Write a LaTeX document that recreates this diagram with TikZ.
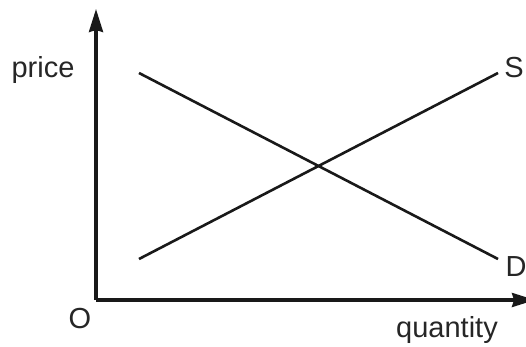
\documentclass[tikz,border=0pt]{standalone}
\usepackage{fontspec}
\setmainfont{Liberation Sans}
\usetikzlibrary{arrows.meta}
\begin{document}
\begin{tikzpicture}[x=1pt,y=-1pt,
  axis/.style={line width=3.2pt,draw=black!90,-{Stealth[length=23pt,width=14pt,inset=2pt]}},
  curve/.style={line width=2.6pt,draw=black!90},
  lbl/.style={font=\fontsize{29}{34}\selectfont,text=black!85,inner sep=0pt,anchor=base}]
\useasboundingbox (0,0) rectangle (526,347);
\clip (0,0) rectangle (526,347);
\coordinate (o) at (96,300);
\coordinate (ytop) at (96,9);
\coordinate (xend) at (535,300);
\draw[axis] (o) -- (ytop);
\draw[axis] (o) -- (xend);
\coordinate (s1) at (139,259);
\coordinate (s2) at (498,73);
\coordinate (d1) at (139,73);
\coordinate (d2) at (498,259);
\draw[curve] (s1) -- (s2);
\draw[curve] (d1) -- (d2);
\node[lbl] (price) at (43,78) {price};
\node[lbl] (S) at (514,78) {S};
\node[lbl] (D) at (516,276) {D};
\node[lbl] (O) at (80,328) {O};
\node[lbl] (q) at (447,337) {quantity};
\end{tikzpicture}
\end{document}
